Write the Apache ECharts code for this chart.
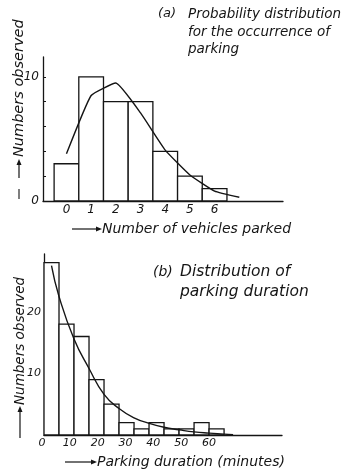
<!DOCTYPE html>
<html>
<head>
<meta charset="utf-8">
<script src="https://cdn.jsdelivr.net/npm/echarts@6/dist/echarts.min.js"></script>
<style>
  html, body { margin: 0; padding: 0; background: #fff; }
  #chart { width: 347px; height: 474px; }
</style>
</head>
<body>
<div id="chart"></div>
<script>
// (a) vehicles parked per observation
const vehiclesParked = [0, 1, 2, 3, 4, 5, 6]
const parkedCounts = [3, 10, 8, 8, 4, 2, 1]
const fitVehicles = [0, 1, 2, 3, 4, 5, 6, 7]
const fitParked = [3.8, 8.5, 9.5, 7.1, 4.1, 2.1, 0.8, 0.3]
const yTicksA = [0, 2, 4, 6, 8, 10]
const yLabelsA = [0, 10]

// (b) parking duration, 5 minute classes
const durationStart = [0, 5, 10, 15, 20, 25, 30, 35, 40, 45, 50, 55]
const durationCounts = [28, 18, 16, 9, 5, 2, 1, 2, 1, 1, 2, 1]
const fitMinutes = [2.5, 5, 10, 15, 20, 25, 30, 35, 40, 45, 50, 55, 60, 63]
const fitDuration = [27.5, 22.5, 15.6, 10.8, 6.6, 4.3, 2.8, 1.9, 1.25, 0.85, 0.5, 0.3, 0.15, 0.05]
const yTicksB = [0, 2, 4, 6, 8, 10, 12, 14, 16, 18, 20, 22, 24, 26, 28]
const yLabelsB = [10, 20]
const minuteLabels = [0, 10, 20, 30, 40, 50, 60]

const ink = '#151515'
const font = 'DejaVu Sans'

const chart = echarts.init(document.getElementById('chart'))

function histItem(params, api) {
  const p0 = api.coord([api.value(0), api.value(2)])
  const p1 = api.coord([api.value(1), 0])
  return {
    type: 'rect',
    shape: { x: p0[0], y: p0[1], width: p1[0] - p0[0], height: p1[1] - p0[1] },
    style: { fill: '#fff', stroke: ink, lineWidth: 1.3 }
  }
}

const histA = vehiclesParked.map((v, i) => [v - 0.5, v + 0.5, parkedCounts[i]])
const histB = durationStart.map((s, i) => [s, s + 5, durationCounts[i]])

const axisLine = { show: true, onZero: false, lineStyle: { color: ink, width: 1.3 } }
const tickLabel = { color: ink, fontFamily: font, fontStyle: 'italic', fontSize: 12 }

function text(x, y, str, size, rotation) {
  return {
    type: 'text', x: x, y: y, rotation: rotation || 0,
    style: {
      text: str, fill: ink, font: 'italic ' + size + 'px "' + font + '"',
      textVerticalAlign: 'middle'
    }
  }
}

// hand drawn style arrow: shaft from (x0,y0) to (x1,y1)
function arrow(x0, y0, x1, y1) {
  const a = Math.atan2(y1 - y0, x1 - x0)
  const hx = x1 - 6 * Math.cos(a), hy = y1 - 6 * Math.sin(a)
  const nx = -Math.sin(a) * 2.5, ny = Math.cos(a) * 2.5
  return [
    { type: 'line', shape: { x1: x0, y1: y0, x2: hx, y2: hy }, style: { stroke: ink, lineWidth: 1.2 } },
    { type: 'polygon', shape: { points: [[x1, y1], [hx + nx, hy + ny], [hx - nx, hy - ny]] }, style: { fill: ink } }
  ]
}

chart.setOption({
  animation: false,
  backgroundColor: '#fff',
  grid: [
    { left: 43, right: 64, top: 57, bottom: 273 },
    { left: 44, right: 65, top: 254, bottom: 39 },
    { left: 42, right: 138, top: 254, bottom: 39 }
  ],
  xAxis: [
    {
      gridIndex: 0, type: 'value', min: -0.95, max: 8.77,
      axisLine: axisLine, splitLine: { show: false },
      axisTick: { show: false },
      axisLabel: Object.assign({ customValues: vehiclesParked, margin: 3 }, tickLabel)
    },
    {
      gridIndex: 1, type: 'value', min: 0, max: 79.3,
      axisLine: axisLine, splitLine: { show: false },
      axisTick: { show: false }, axisLabel: { show: false }
    },
    {
      gridIndex: 2, type: 'value', min: 0, max: 60, interval: 10,
      axisLine: { show: false }, splitLine: { show: false },
      axisTick: { show: false },
      axisLabel: Object.assign({ customValues: minuteLabels, margin: 3 }, tickLabel, { fontSize: 11 })
    }
  ],
  yAxis: [
    {
      gridIndex: 0, type: 'value', min: 0, max: 11.6,
      axisLine: axisLine, splitLine: { show: false },
      axisTick: { show: true, inside: true, length: 3, customValues: yTicksA, lineStyle: { color: ink } },
      axisLabel: Object.assign({ customValues: yLabelsA, margin: 4 }, tickLabel)
    },
    {
      gridIndex: 1, type: 'value', min: 0, max: 29.4,
      axisLine: axisLine, splitLine: { show: false },
      axisTick: { show: true, inside: true, length: 3, customValues: yTicksB, lineStyle: { color: ink } },
      axisLabel: Object.assign({ customValues: yLabelsB, margin: 3 }, tickLabel, { fontSize: 11 })
    },
    { gridIndex: 2, type: 'value', min: 0, max: 29.4, show: false }
  ],
  series: [
    {
      type: 'custom', xAxisIndex: 0, yAxisIndex: 0,
      renderItem: histItem, data: histA, silent: true
    },
    {
      type: 'line', xAxisIndex: 0, yAxisIndex: 0,
      data: fitVehicles.map((v, i) => [v, fitParked[i]]),
      symbol: 'none', smooth: 0.12,
      lineStyle: { color: ink, width: 1.4 }, z: 3
    },
    {
      type: 'custom', xAxisIndex: 1, yAxisIndex: 1,
      renderItem: histItem, data: histB, silent: true
    },
    {
      type: 'line', xAxisIndex: 1, yAxisIndex: 1,
      data: fitMinutes.map((m, i) => [m, fitDuration[i]]),
      symbol: 'none', smooth: true,
      lineStyle: { color: ink, width: 1.4 }, z: 3
    }
  ],
  graphic: [
    text(158, 14, '(a)', 13),
    text(188, 14, 'Probability distribution', 13.5),
    text(188, 32, 'for the occurrence of', 13.5),
    text(188, 49, 'parking', 13.5),
    text(153, 272, '(b)', 14),
    text(180, 272, 'Distribution of', 15.5),
    text(180, 292, 'parking duration', 15.5),
    text(102, 229, 'Number of vehicles parked', 14),
    text(97, 462, 'Parking duration (minutes)', 14),
    text(19, 157, 'Numbers observed', 14.5, Math.PI / 2),
    text(20, 405, 'Numbers observed', 13.5, Math.PI / 2),
    { type: 'line', shape: { x1: 19, y1: 189, x2: 19, y2: 199 }, style: { stroke: ink, lineWidth: 1.1 } }
  ].concat(
    arrow(72, 229, 102, 229),
    arrow(65, 462, 97, 462),
    arrow(19, 178, 19, 159),
    arrow(20, 438, 20, 406)
  )
})
</script>
</body>
</html>
